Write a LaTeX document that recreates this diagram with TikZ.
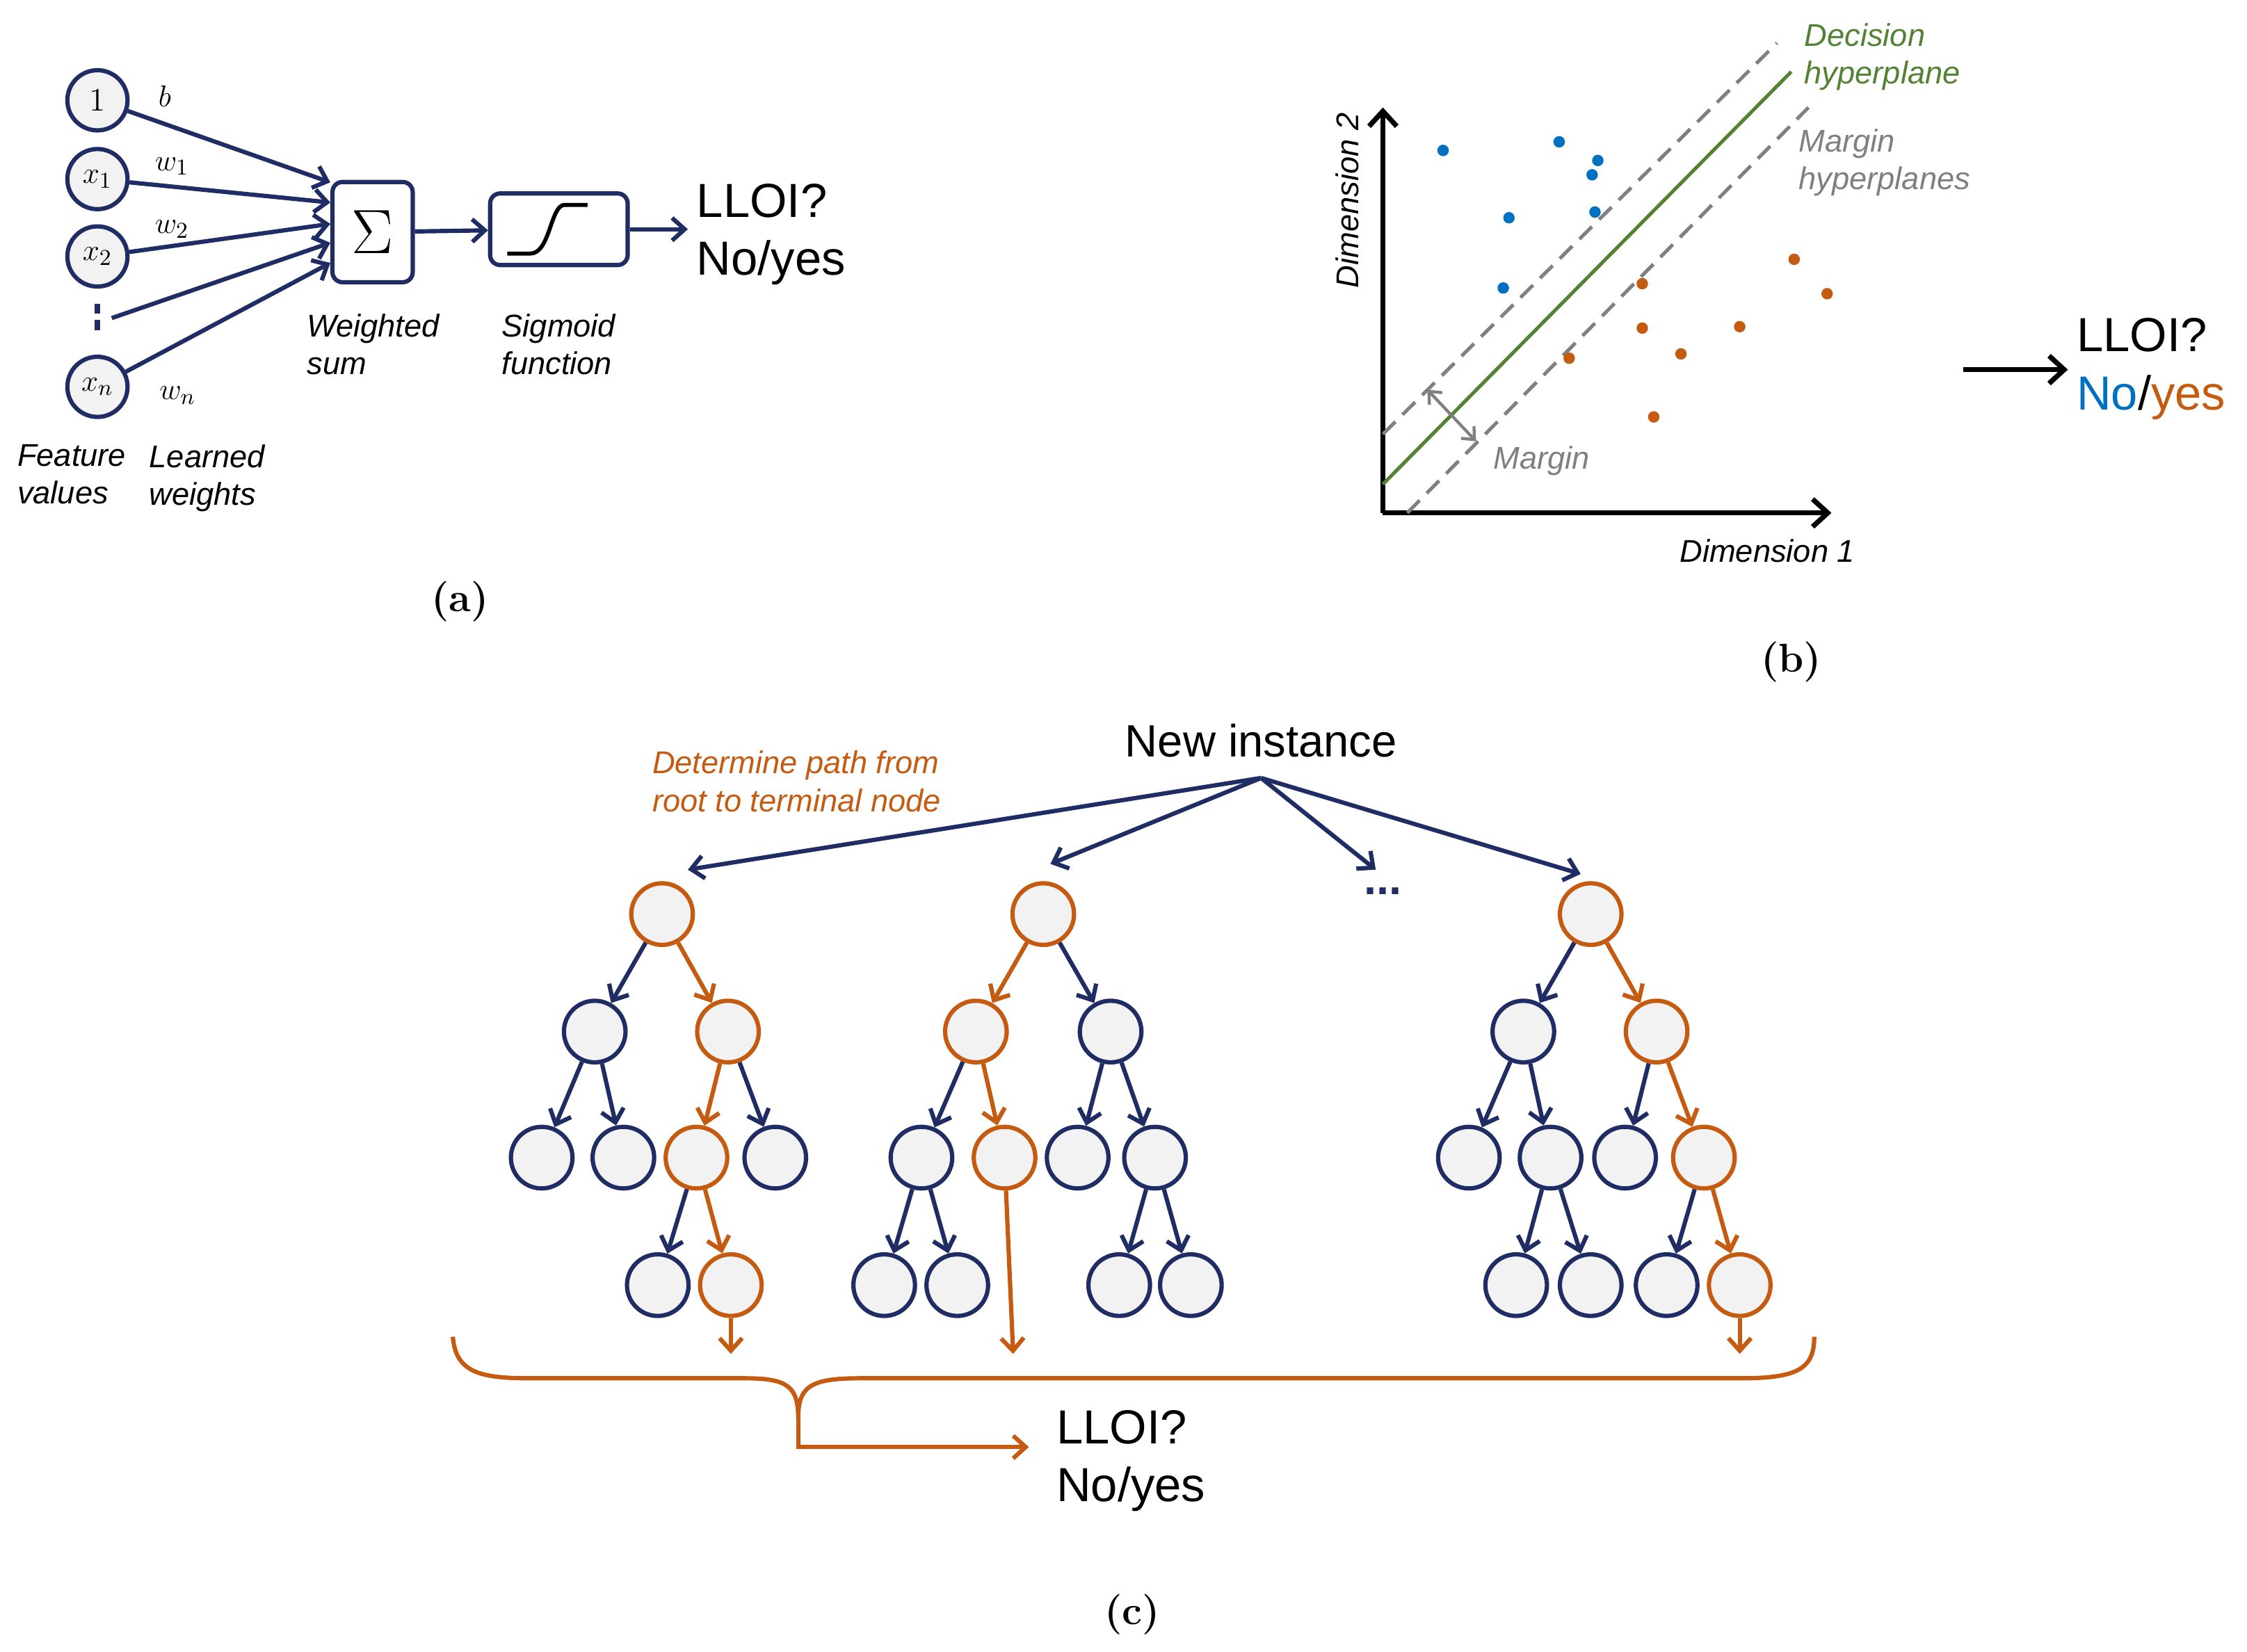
\documentclass[tikz,border=0pt]{standalone}
\usepackage{fontspec}
\setmainfont{Liberation Sans}
\newfontfamily\serifpart{Latin Modern Roman}
\usepackage{xcolor}
\definecolor{navy-900}{RGB}{31,45,100}
\definecolor{orange-700}{RGB}{197,90,17}
\definecolor{blue-600}{RGB}{0,112,192}
\definecolor{green-700}{RGB}{84,130,53}
\definecolor{gray-500}{RGB}{128,128,128}
\definecolor{gray-100}{RGB}{242,242,242}
\usetikzlibrary{arrows.meta,positioning}

\begin{document}
\begin{tikzpicture}[
    x=0.02cm, y=-0.02cm,
    unit/.style={
        circle,
        draw=navy-900,
        line width=1.7pt,
        fill=gray-100,
        minimum size=0.84cm,
        inner sep=0pt,
        font=\serifpart\fontsize{13}{13}\selectfont
    },
    tree node/.style={
        circle,
        draw=#1,
        line width=1.7pt,
        fill=gray-100,
        minimum size=0.86cm,
        inner sep=0pt
    },
    block/.style={
        rounded corners=4pt,
        draw=navy-900,
        line width=1.7pt,
        fill=white,
        inner sep=0pt
    },
    arrow/.style={-{Straight Barb[length=5pt,width=9pt]}, line width=1.7pt, #1},
    arrow/.default=navy-900,
    note/.style={font=\itshape\fontsize{12.5}{15}\selectfont, align=left, anchor=north west},
    answer/.style={font=\fontsize{19}{23}\selectfont, align=left, anchor=north west},
    tag/.style={font=\serifpart\bfseries\fontsize{16}{16}\selectfont},
    weight/.style={font=\fontsize{13}{13}\selectfont}
]
\useasboundingbox (0,0) rectangle (1568,1153);

% === (a) PERCEPTRON ===
\node[unit] (one) at (68,70) {1};
\node[unit] (x1) at (68,125) {$x_1$};
\node[unit] (x2) at (68,179) {$x_2$};
\node[unit] (xn) at (68,270) {$x_n$};
\coordinate (vdots top) at (68,212);
\coordinate (vdots bot) at (68,234);
\draw[navy-900, line width=2.2pt, dash pattern=on 4pt off 2.5pt] (vdots top) -- (vdots bot);
\coordinate (dotsend) at (78,222);

\node[block, minimum width=1.12cm, minimum height=1.4cm, font=\serifpart\fontsize{26}{26}\selectfont] (sum) at (260,162) {$\Sigma$};
\node[block, minimum width=1.92cm, minimum height=1.0cm] (sig) at (390,160) {};
\draw[line width=1.6pt] (sig.center) ++(-36,17) -- ++(16,0)
    .. controls ++(14,0) and ++(-10,0) .. ++(24,-34) -- ++(16,0);
\node[answer] (outa) at (480,122) {LLOI?\\No/yes};

\draw[arrow] (one) -- ([yshift=-1pt]sum.north west);
\draw[arrow] (x1) -- ([yshift=-9pt]sum.north west);
\draw[arrow] (x2) -- ([yshift=-17.5pt]sum.north west);
\draw[arrow] (dotsend) -- ([yshift=-25pt]sum.north west);
\draw[arrow] (xn) -- ([yshift=-33pt]sum.north west);
\draw[arrow] (sum) -- (sig);
\draw[arrow] (sig) -- (outa.west |- sig.east);

\node[weight] (wb) at (115,67) {$b$};
\node[weight] (w1) at (120,116) {$w_1$};
\node[weight] (w2) at (120,160) {$w_2$};
\node[weight] (wn) at (124,276) {$w_n$};

\node[note] (wsum) at (208,213) {Weighted\\sum};
\node[note] (sigf) at (344,213) {Sigmoid\\function};
\node[note] (feat) at (6,304) {Feature\\values};
\node[note] (lw) at (98,304) {Learned\\weights};
\node[tag] (taga) at (321,420) {(a)};

% === (b) SVM ===
\coordinate (origin) at (965,358);
\coordinate (ytop) at (965,75);
\coordinate (xend) at (1278,358);
\draw[line width=2pt, -{Straight Barb[length=6pt,width=11pt]}] (origin) -- (ytop);
\draw[line width=2pt, -{Straight Barb[length=6pt,width=11pt]}] (origin) -- (xend);

\coordinate (dec a) at (965,338);
\coordinate (dec b) at (1250,50);
\coordinate (up a) at (965,303);
\coordinate (up b) at (1240,30);
\coordinate (lo a) at (982,358);
\coordinate (lo b) at (1262,75);
\draw[green-700, line width=1.4pt] (dec a) -- (dec b);
\draw[gray-500, line width=1.4pt, dash pattern=on 7pt off 4pt] (up a) -- (up b);
\draw[gray-500, line width=1.4pt, dash pattern=on 7pt off 4pt] (lo a) -- (lo b);
\coordinate (m a) at (996,272);
\coordinate (m b) at (1030,308);
\draw[gray-500, line width=1.2pt, {Straight Barb[length=4pt,width=7pt]}-{Straight Barb[length=4pt,width=7pt]}] (m a) -- (m b);

\foreach \px/\py in {1007/105,1088/99,1115/112,1111/122,1053/152,1113/148,1049/201}
    \fill[blue-600] (\px,\py) circle[radius=4];
\foreach \px/\py in {1252/181,1275/205,1146/198,1146/229,1173/247,1214/228,1095/250,1154/291}
    \fill[orange-700] (\px,\py) circle[radius=4];

\node[note, text=green-700] (declbl) at (1253,10) {Decision\\hyperplane};
\node[note, text=gray-500] (marlbl) at (1249,84) {Margin\\hyperplanes};
\node[note, text=gray-500] (mlbl) at (1036,305) {Margin};
\node[note] (d1) at (1166,370) {Dimension 1};
\node[note, anchor=center, rotate=90] (d2) at (940,140) {Dimension 2};

\coordinate (outb start) at (1370,258);
\node[answer] (outb) at (1443,216) {LLOI?\\\textcolor{blue-600}{No}/\textcolor{orange-700}{yes}};
\draw[line width=2pt, -{Straight Barb[length=6pt,width=11pt]}] (outb start) -- (outb.west |- outb start);
\node[tag] (tagb) at (1250,462) {(b)};

% === (c) RANDOM FOREST ===
\node[font=\fontsize{18}{18}\selectfont] (inst) at (880,517) {New instance};
\coordinate (split) at (880,543);
\node[note, text=orange-700] (pathlbl) at (449,518) {Determine path from\\root to terminal node};
\node[font=\bfseries\fontsize{18}{18}\selectfont, text=navy-900] (more) at (965,622) {...};

% tree 1
\node[tree node=orange-700] (a0) at (462,638) {};
\node[tree node=navy-900] (a1) at (415,720) {};
\node[tree node=orange-700] (a2) at (508,720) {};
\node[tree node=navy-900] (a3) at (378,808) {};
\node[tree node=navy-900] (a4) at (435,808) {};
\node[tree node=orange-700] (a5) at (486,808) {};
\node[tree node=navy-900] (a6) at (541,808) {};
\node[tree node=navy-900] (a7) at (459,897) {};
\node[tree node=orange-700] (a8) at (510,897) {};
\coordinate (aend) at (510,945);
% tree 2
\node[tree node=orange-700] (b0) at (728,638) {};
\node[tree node=orange-700] (b1) at (681,720) {};
\node[tree node=navy-900] (b2) at (775,720) {};
\node[tree node=navy-900] (b3) at (643,808) {};
\node[tree node=orange-700] (b4) at (701,808) {};
\node[tree node=navy-900] (b5) at (752,808) {};
\node[tree node=navy-900] (b6) at (806,808) {};
\node[tree node=navy-900] (b7) at (617,897) {};
\node[tree node=navy-900] (b8) at (668,897) {};
\node[tree node=navy-900] (b9) at (781,897) {};
\node[tree node=navy-900] (b10) at (831,897) {};
\coordinate (bend) at (707,945);
% tree 3
\node[tree node=orange-700] (c0) at (1110,638) {};
\node[tree node=navy-900] (c1) at (1063,720) {};
\node[tree node=orange-700] (c2) at (1156,720) {};
\node[tree node=navy-900] (c3) at (1025,808) {};
\node[tree node=navy-900] (c4) at (1082,808) {};
\node[tree node=navy-900] (c5) at (1134,808) {};
\node[tree node=orange-700] (c6) at (1189,808) {};
\node[tree node=navy-900] (c7) at (1058,897) {};
\node[tree node=navy-900] (c8) at (1110,897) {};
\node[tree node=navy-900] (c9) at (1163,897) {};
\node[tree node=orange-700] (c10) at (1214,897) {};
\coordinate (cend) at (1214,945);

% arrows into the trees
\coordinate (t1) at (480,607);
\coordinate (t2) at (733,603);
\coordinate (t3) at (960,607);
\coordinate (t4) at (1103,610);
\foreach \t in {t1,t2,t3,t4}
    \draw[arrow] (split) -- (\t);

% navy edges
\foreach \s/\e in {a0/a1,a1/a3,a1/a4,a2/a6,a5/a7,
                   b0/b2,b1/b3,b2/b5,b2/b6,b3/b7,b3/b8,b6/b9,b6/b10,
                   c0/c1,c1/c3,c1/c4,c2/c5,c4/c7,c4/c8,c6/c9}
    \draw[arrow] (\s) -- (\e);
% orange decision paths
\foreach \s/\e in {a0/a2,a2/a5,a5/a8,a8/aend,
                   b0/b1,b1/b4,b4/bend,
                   c0/c2,c2/c6,c6/c10,c10/cend}
    \draw[arrow=orange-700] (\s) -- (\e);

% brace and vote
\coordinate (br left) at (316,933);
\coordinate (br tip) at (557,990);
\coordinate (br right) at (1266,933);
\draw[orange-700, line width=1.7pt]
    (br left) .. controls (318,958) and (335,962) .. (370,962) -- (520,962)
    .. controls (550,962) and (557,968) .. (br tip)
    .. controls (557,968) and (565,962) .. (600,962) -- (1215,962)
    .. controls (1255,962) and (1266,955) .. (br right);
\node[answer] (outc) at (731,978) {LLOI?\\No/yes};
\coordinate (vote) at (718,1010);
\draw[arrow=orange-700] (br tip) |- (vote);
\node[tag] (tagc) at (790,1127) {(c)};
\end{tikzpicture}
\end{document}
